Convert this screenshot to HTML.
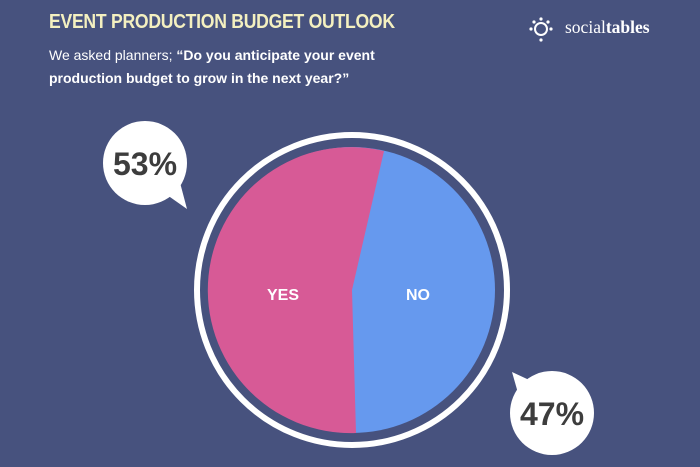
<!DOCTYPE html>
<html><head><style>
body{margin:0;width:700px;height:467px;background:#47527e;overflow:hidden;font-family:"Liberation Sans",sans-serif;position:relative}
.t{position:absolute;left:49px;top:11px;color:#f4f0c0;font-weight:bold;font-size:20px;letter-spacing:-0.3px;transform:scaleX(0.88);transform-origin:left}
.s{position:absolute;left:49px;top:44px;color:#fff;font-size:14px;line-height:23px}
.logo{position:absolute;left:565px;top:17px;color:#fff;font-size:17.5px;font-family:"Liberation Serif",serif}
</style></head><body>
<div class="t">EVENT PRODUCTION BUDGET OUTLOOK</div>
<div class="s">We asked planners; <b>“Do you anticipate your event<br>production budget to grow in the next year?”</b></div>
<div class="logo">social<b>tables</b></div>
<svg width="700" height="467" style="position:absolute;left:0;top:0">
<g fill="#fff"><circle cx="541" cy="19" r="1.6"/><circle cx="534" cy="22" r="1.6"/><circle cx="548" cy="22" r="1.6"/><circle cx="531" cy="29" r="1.6"/><circle cx="551" cy="29" r="1.6"/><circle cx="541" cy="40" r="1.6"/></g>
<circle cx="541" cy="29" r="6" fill="none" stroke="#fff" stroke-width="2"/>
<circle cx="352" cy="290" r="155" fill="none" stroke="#fff" stroke-width="6"/>
<circle cx="352" cy="290" r="143" fill="#6699ee"/>
<path d="M352,290 L384,151 A143 143 0 1 0 356,433 Z" fill="#d75a96"/>
<text x="283" y="300" fill="#fff" font-size="16" font-weight="bold" text-anchor="middle">YES</text>
<text x="418" y="300" fill="#fff" font-size="16" font-weight="bold" text-anchor="middle">NO</text>
<circle cx="145" cy="163" r="42" fill="#fff"/>
<path d="M160,190 L187,209 L178,175 Z" fill="#fff"/>
<text x="145" y="175" fill="#3d3d3d" font-size="32" font-weight="bold" text-anchor="middle">53%</text>
<circle cx="552" cy="413" r="42" fill="#fff"/>
<path d="M540,385 L512,372 L520,400 Z" fill="#fff"/>
<text x="552" y="425" fill="#3d3d3d" font-size="32" font-weight="bold" text-anchor="middle">47%</text>
</svg>
</body></html>
